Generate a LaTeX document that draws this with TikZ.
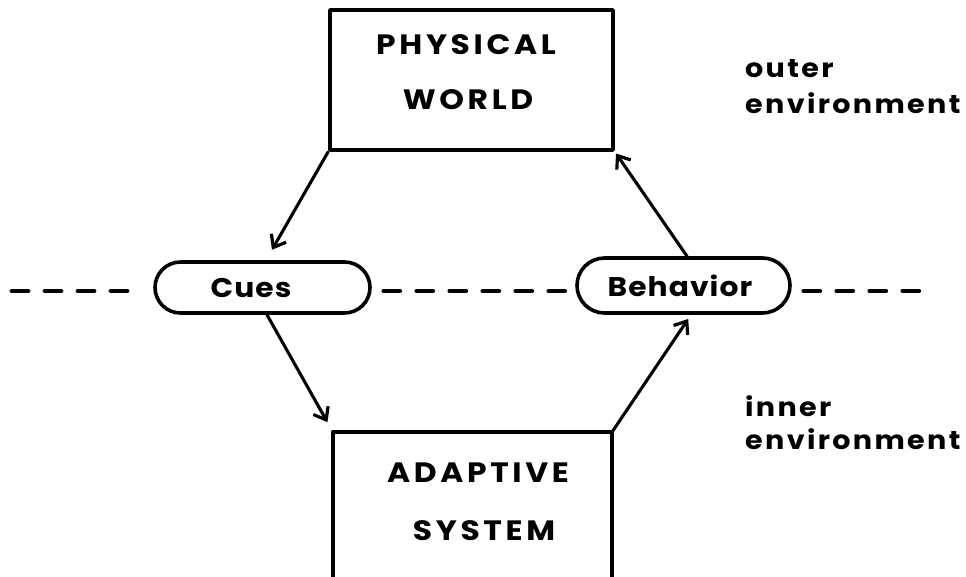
\documentclass[tikz,border=0pt]{standalone}
\usepackage{fontspec}
\setmainfont{Poppins}
\newfontfamily\letteringcaps[LetterSpace=13,FakeStretch=1.12]{Poppins}
\newfontfamily\letteringside[LetterSpace=9,FakeStretch=1.1]{Poppins}
\newfontfamily\letteringlow[LetterSpace=4,FakeStretch=1.1]{Poppins}
\usetikzlibrary{arrows.meta,shapes.misc}
\begin{document}
\begin{tikzpicture}[x=1pt,y=-1pt,
  frame/.style={line width=3.8pt, line cap=round, line join=round},
  box/.style={draw, frame, inner sep=0pt, minimum width=283pt, minimum height=140pt},
  openbox/.style={inner sep=0pt, minimum width=279pt, minimum height=145pt},
  pill/.style={draw, rounded rectangle, line width=3.6pt, inner sep=0pt},
  pilltext/.style={inner sep=0pt, font=\letteringlow\bfseries\fontsize{27}{27}\selectfont},
  caption/.style={anchor=base, inner sep=0pt, font=\letteringcaps\bfseries\fontsize{28}{28}\selectfont},
  side/.style={anchor=base west, inner sep=0pt, font=\letteringside\bfseries\fontsize{26}{26}\selectfont},
  flow/.style={line width=3.1pt, line cap=round,
    -{Straight Barb[length=11pt,width=17pt,line width=3.2pt]}},
  divider/.style={line width=4.8pt, line cap=round, dash pattern=on 16pt off 17pt}]
\useasboundingbox (0,0) rectangle (966,577);

% outer box
\node[box] (world) at (471.5,80) {};
\node[caption] (worldA) at (466,55) {PHYSICAL};
\node[caption] (worldB) at (468,110) {WORLD};

% inner box, open at the bottom
\node[openbox] (system) at (472.5,504.5) {};
\draw[frame] (system.south west) |- (system.north east) -- (system.south east);
\node[caption] (systemA) at (478,482) {ADAPTIVE};
\node[caption] (systemB) at (484,540) {SYSTEM};

% interface pills
\node[pill, minimum width=215pt, minimum height=51pt] (cues) at (262.5,287.5) {};
\node[pilltext] (cuesText) at (251,288) {Cues};
\node[pill, minimum width=213pt, minimum height=55pt] (behavior) at (683.5,285.5) {};
\node[pilltext] (behaviorText) at (680,286) {Behavior};

% boundary between outer and inner environment
\coordinate (edgeL) at (12,291);
\coordinate (edgeR) at (920,291);
\draw[divider] (edgeL) -- ([xshift=-14pt]cues.west |- edgeL);
\draw[divider] ([xshift=12pt]cues.east |- edgeL) -- ([xshift=-10pt]behavior.west |- edgeL);
\draw[divider] ([xshift=12pt]behavior.east |- edgeL) -- (edgeR);

% flows
\draw[flow, shorten >=12pt] (world.south west) -- ([xshift=3.5pt]cues.north);
\draw[flow, shorten >=11pt] ([xshift=4.5pt]cues.south) -- (system.north west);
\draw[flow, shorten >=5pt] (system.north east) -- ([xshift=7.5pt]behavior.south);
\draw[flow, shorten >=2pt] ([xshift=3.5pt]behavior.north) -- (world.south east);

% environment labels
\node[side] (outerA) at (745,78) {outer};
\node[side] (outerB) at (745,114) {environment};
\node[side] (innerA) at (745,416) {inner};
\node[side] (innerB) at (745,449) {environment};
\end{tikzpicture}
\end{document}
